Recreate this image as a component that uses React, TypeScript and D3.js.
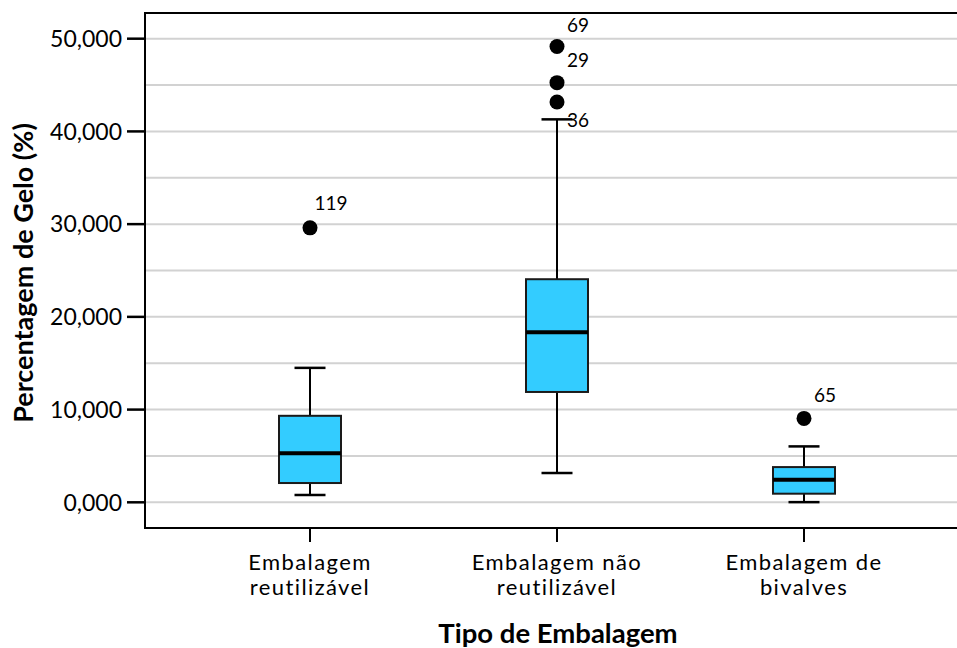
import React from "react";
import * as d3 from "d3";

const categories = ["Embalagem reutilizável", "Embalagem não reutilizável", "Embalagem de bivalves"];
const categoryLines = [["Embalagem", "reutilizável"], ["Embalagem não", "reutilizável"], ["Embalagem de", "bivalves"]];
const whiskerLow = [0.79, 3.16, 0.02];
const q1 = [2.08, 11.9, 0.93];
const median = [5.28, 18.35, 2.44];
const q3 = [9.33, 24.06, 3.8];
const whiskerHigh = [14.5, 41.3, 6.03];
const outlierCat = [0, 1, 1, 1, 2];
const outlierValue = [29.6, 49.15, 45.26, 43.17, 9.05];
const outlierId = ["119", "69", "29", "36", "65"];
const labelDy = [-18, -15, -15.5, 24.5, -16];
const majorTicks = [0, 10, 20, 30, 40, 50];
const gridTicks = [0, 5, 10, 15, 20, 25, 30, 35, 40, 45, 50];

const W = 957, H = 648;
const left = 145, top = 13, bottom = 528;
const FONT = "Lato, 'Noto Sans', sans-serif";

const loc = d3.formatLocale({ decimal: ",", thousands: ".", grouping: [3], currency: ["", ""] });
const fmt = loc.format(".3f");

export default function App() {
  const y = d3.scaleLinear().domain([-2.77, 52.77]).range([bottom, top]);
  const x = d3.scaleBand().domain(categories).range([186.5, 927.5]);
  const cx = (i: number) => (x(categories[i]) as number) + x.bandwidth() / 2;
  const boxW = 62, capW = 31;
  return (
    <svg width={W} height={H} style={{ position: "absolute", left: 0, top: 0, background: "#fff" }}>
      {gridTicks.map((t) => (
        <line key={"g" + t} x1={left} x2={W} y1={y(t)} y2={y(t)} stroke="#d2d2d2" strokeWidth={2} />
      ))}
      <line x1={left} x2={W} y1={top} y2={top} stroke="#000" strokeWidth={2} />
      <line x1={left} x2={W} y1={bottom} y2={bottom} stroke="#000" strokeWidth={2} />
      <line x1={left} x2={left} y1={top - 1} y2={bottom + 1} stroke="#000" strokeWidth={2} />
      {majorTicks.map((t) => (
        <g key={"t" + t}>
          <line x1={127} x2={left} y1={y(t)} y2={y(t)} stroke="#000" strokeWidth={2.5} />
          <text x={122} y={y(t)} dy="0.36em" textAnchor="end" fontFamily={FONT} fontSize={23} fill="#000">
            {fmt(t)}
          </text>
        </g>
      ))}
      {categories.map((c, i) => (
        <g key={c}>
          <line x1={cx(i)} x2={cx(i)} y1={bottom} y2={bottom + 14} stroke="#000" strokeWidth={2} />
          {categoryLines[i].map((ln, j) => (
            <text key={j} x={cx(i)} y={569.5 + j * 25.7} textAnchor="middle" fontFamily={FONT} fontSize={22} letterSpacing={1.4} fill="#000">
              {ln}
            </text>
          ))}
          <line x1={cx(i)} x2={cx(i)} y1={y(whiskerHigh[i])} y2={y(q3[i])} stroke="#000" strokeWidth={2} />
          <line x1={cx(i)} x2={cx(i)} y1={y(q1[i])} y2={y(whiskerLow[i])} stroke="#000" strokeWidth={2} />
          <line x1={cx(i) - capW / 2} x2={cx(i) + capW / 2} y1={y(whiskerHigh[i])} y2={y(whiskerHigh[i])} stroke="#000" strokeWidth={2.5} />
          <line x1={cx(i) - capW / 2} x2={cx(i) + capW / 2} y1={y(whiskerLow[i])} y2={y(whiskerLow[i])} stroke="#000" strokeWidth={2.5} />
          <rect x={cx(i) - boxW / 2} y={y(q3[i])} width={boxW} height={y(q1[i]) - y(q3[i])} fill="#33ccff" stroke="#1a1a1a" strokeWidth={2} />
          <line x1={cx(i) - boxW / 2} x2={cx(i) + boxW / 2} y1={y(median[i])} y2={y(median[i])} stroke="#000" strokeWidth={4} />
        </g>
      ))}
      {outlierValue.map((v, k) => (
        <g key={"o" + k}>
          <circle cx={cx(outlierCat[k])} cy={y(v)} r={7.5} fill="#000" />
          <text x={cx(outlierCat[k]) + 21} y={y(v) + labelDy[k]} textAnchor="middle" fontFamily={FONT} fontSize={19} fill="#000">
            {outlierId[k]}
          </text>
        </g>
      ))}
      <text transform={`translate(33,273) rotate(-90)`} textAnchor="middle" fontFamily={FONT} fontWeight="bold" fontSize={27} fill="#000">
        Percentagem de Gelo (%)
      </text>
      <text x={558} y={643} textAnchor="middle" fontFamily={FONT} fontWeight="bold" fontSize={27.5} fill="#000">
        Tipo de Embalagem
      </text>
    </svg>
  );
}
